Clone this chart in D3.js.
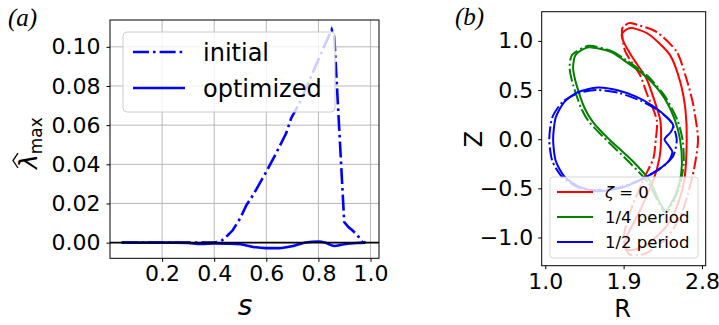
<!DOCTYPE html>
<html><head><meta charset="utf-8">
<script src="https://cdn.jsdelivr.net/npm/d3@7"></script>
<style>body{margin:0;background:#fff;} svg{display:block;} text{font-family:"DejaVu Sans",sans-serif;}</style>
</head><body>
<svg id="c" width="719" height="325"></svg>
<script>
// ---------- Panel (a) data ----------
const sInitial = [0.045,0.1,0.2,0.3,0.4,0.427,0.45,0.471,0.5,0.523,0.55,0.567,0.599,0.637,0.676,0.695,0.733,0.777,0.816,0.851,0.861,0.899,0.915,0.93,0.95,0.969,0.98];
const lamInitial = [0,0,0,0,0,0.0008,0.0035,0.0063,0.0125,0.019,0.0245,0.0285,0.036,0.0455,0.0558,0.0634,0.0728,0.0864,0.0984,0.1088,0.105,0.0105,0.008,0.0063,0.0037,0.0003,0];
const sOpt = [0.045,0.1,0.15,0.2,0.25,0.3,0.35,0.4,0.45,0.5,0.55,0.6,0.65,0.7,0.75,0.8,0.83,0.86,0.9,0.95,0.98];
const lamOpt = [0,0,0,0,0,-0.0002,-0.0007,-0.0004,-0.0005,-0.0008,-0.0022,-0.0028,-0.0028,-0.0018,0.0001,0.0006,-0.0002,-0.0017,-0.0008,-0.0002,0];
const aXTicks = [0.2,0.4,0.6,0.8,1.0];
const aXTickLabels = ["0.2","0.4","0.6","0.8","1.0"];
const aYTicks = [0,0.02,0.04,0.06,0.08,0.10];
const aYTickLabels = ["0.00","0.02","0.04","0.06","0.08","0.10"];
const aLegend = ["initial","optimized"];

// ---------- Panel (b) data: (R, Z) cross-sections ----------
const redOptR = [1.88,1.94,2.01,2.20,2.43,2.55,2.61,2.625,2.60,2.51,2.39,2.16,1.98,1.92,1.935,2.09,2.24,2.31,2.33,2.32,2.24,2.16,2.01,1.90];
const redOptZ = [1.07,1.12,1.13,1.06,0.86,0.585,0.30,0.0,-0.40,-0.69,-0.89,-1.08,-1.13,-1.09,-0.99,-0.72,-0.42,-0.2,0.0,0.2,0.43,0.62,0.82,0.99];
const redIniR = [1.88,1.92,1.99,2.28,2.51,2.62,2.70,2.755,2.71,2.64,2.55,2.39,2.16,1.99,1.92,1.90,1.97,2.125,2.24,2.27,2.28,2.16,2.09,1.92];
const redIniZ = [1.11,1.16,1.18,1.09,0.89,0.62,0.35,0.0,-0.30,-0.55,-0.79,-1.01,-1.16,-1.18,-1.11,-0.99,-0.75,-0.415,-0.2,0.0,0.2,0.48,0.65,0.89];
const greenOptR = [1.50,1.75,1.90,2.16,2.36,2.49,2.55,2.57,2.54,2.46,2.38,2.30,2.20,2.00,1.72,1.55,1.45,1.36,1.32,1.35];
const greenOptZ = [0.935,0.89,0.805,0.635,0.43,0.195,-0.01,-0.25,-0.45,-0.63,-0.73,-0.62,-0.42,-0.22,0.01,0.17,0.32,0.55,0.72,0.86];
const greenIniR = [1.50,1.75,1.92,2.18,2.38,2.52,2.58,2.59,2.55,2.47,2.39,2.31,2.18,1.96,1.67,1.50,1.41,1.32,1.28,1.31];
const greenIniZ = [0.95,0.90,0.81,0.64,0.43,0.19,-0.02,-0.25,-0.46,-0.64,-0.75,-0.66,-0.44,-0.23,0.02,0.18,0.32,0.55,0.72,0.86];
const blueOptR = [1.09,1.12,1.22,1.38,1.60,1.82,2.05,2.25,2.40,2.47,2.44,2.37,2.42,2.46,2.42,2.28,2.08,1.85,1.60,1.38,1.22,1.12];
const blueOptZ = [0.0,0.22,0.38,0.48,0.525,0.50,0.43,0.33,0.22,0.14,0.07,0.0,-0.07,-0.13,-0.22,-0.32,-0.42,-0.50,-0.53,-0.48,-0.38,-0.22];
const blueIniR = [1.046,1.08,1.20,1.38,1.60,1.85,2.10,2.30,2.45,2.51,2.47,2.32,2.10,1.85,1.60,1.38,1.20,1.08];
const blueIniZ = [0.0,0.22,0.38,0.47,0.50,0.47,0.39,0.29,0.17,0.0,-0.17,-0.30,-0.41,-0.49,-0.52,-0.49,-0.39,-0.22];
const bXTicks = [1.0,1.9,2.8];
const bXTickLabels = ["1.0","1.9","2.8"];
const bYTicks = [1.0,0.5,0.0,-0.5,-1.0];
const bYTickLabels = ["1.0","0.5","0.0","\u22120.5","\u22121.0"];
const bLegend = ["\u03b6 = 0","1/4 period","1/2 period"];
const bColors = ["#ff0000","#008000","#0000ff"];

const svg = d3.select("#c");

// ================= Panel (a) =================
const xa = d3.scaleLinear().domain([0.0,1.0325]).range([110,379]);
const ya = d3.scaleLinear().domain([-0.008,0.1137]).range([258.3,20]);
const ga = svg.append("g");
ga.selectAll(".gx").data(aXTicks).enter().append("line")
  .attr("x1",d=>xa(d)).attr("x2",d=>xa(d)).attr("y1",ya.range()[0]).attr("y2",ya.range()[1])
  .attr("stroke","#b0b0b0").attr("stroke-width",0.9);
ga.selectAll(".gy").data(aYTicks).enter().append("line")
  .attr("y1",d=>ya(d)).attr("y2",d=>ya(d)).attr("x1",xa.range()[0]).attr("x2",xa.range()[1])
  .attr("stroke","#b0b0b0").attr("stroke-width",0.9);
const lineA = d3.line().x(d=>xa(d[0])).y(d=>ya(d[1]));
ga.append("path").datum(d3.zip(sInitial,lamInitial)).attr("d",lineA)
  .attr("fill","none").attr("stroke","#0000ff").attr("stroke-width",2.6)
  .attr("stroke-dasharray","16,4,2.6,4");
ga.append("path").datum(d3.zip(sOpt,lamOpt)).attr("d",lineA.curve(d3.curveMonotoneX))
  .attr("fill","none").attr("stroke","#0000ff").attr("stroke-width",2.6);
ga.append("line").attr("x1",xa.range()[0]).attr("x2",xa.range()[1]).attr("y1",ya(0)).attr("y2",ya(0))
  .attr("stroke","#000").attr("stroke-width",1.8);
const la = ga.append("g");
la.append("rect").attr("x",123).attr("y",32).attr("width",212).attr("height",80).attr("rx",4)
  .attr("fill","#fff").attr("fill-opacity",0.8).attr("stroke","#cccccc").attr("stroke-width",1);
aLegend.forEach((t,i)=>{
  const yy = 52 + i*36;
  la.append("line").attr("x1",133).attr("x2",185).attr("y1",yy).attr("y2",yy)
    .attr("stroke","#0000ff").attr("stroke-width",2.6)
    .attr("stroke-dasharray", i===0 ? "16,4,2.6,4" : null);
  la.append("text").attr("x",203).attr("y",yy).attr("dy","0.36em").attr("font-size",24).text(t);
});
ga.append("g").attr("transform","translate(0,258.3)")
  .call(d3.axisBottom(xa).tickValues(aXTicks).tickFormat((d,i)=>aXTickLabels[i]).tickSizeOuter(0).tickSize(3.5).tickPadding(4))
  .call(g=>{g.select(".domain").remove(); g.selectAll("text").attr("font-size",22).style("font-family","DejaVu Sans").attr("fill","#000");});
ga.append("g").attr("transform","translate(110,0)")
  .call(d3.axisLeft(ya).tickValues(aYTicks).tickFormat((d,i)=>aYTickLabels[i]).tickSizeOuter(0).tickSize(3.5).tickPadding(6))
  .call(g=>{g.select(".domain").remove(); g.selectAll("text").attr("font-size",22).style("font-family","DejaVu Sans").attr("fill","#000");});
ga.append("rect").attr("x",110).attr("y",20).attr("width",269).attr("height",238.3)
  .attr("fill","none").attr("stroke","#000").attr("stroke-width",1);
ga.append("text").attr("x",245).attr("y",315).attr("text-anchor","middle")
  .attr("font-size",28).attr("font-style","italic").text("s");
// y label: hat-lambda with "max" subscript, rotated
const yg = ga.append("g").attr("transform","translate(37,141) rotate(-90)");
const yl = yg.append("text").attr("x",-28);
const lamSpan = yl.append("tspan").attr("font-size",25).attr("font-style","italic").text("\u03bb");
yl.append("tspan").attr("font-size",17).attr("dy",5).text("max");
const lw = lamSpan.node().getComputedTextLength();
yg.append("path")
  .attr("d",`M${-28+1},${-19} L${-28+lw/2+1},${-24} L${-28+lw+1},${-19}`)
  .attr("fill","none").attr("stroke","#000").attr("stroke-width",1.3);
ga.append("text").attr("x",8).attr("y",26).style("font-family","'Liberation Serif', serif")
  .attr("font-style","italic").attr("font-size",25).text("(a)");

// ================= Panel (b) =================
const xb = d3.scaleLinear().domain([0.959,2.843]).range([541.7,705.7]);
const yb = d3.scaleLinear().domain([-1.287,1.297]).range([265.7,11.7]);
const gb = svg.append("g");
const lineB = d3.line().x(d=>xb(d[0])).y(d=>yb(d[1])).curve(d3.curveCardinalClosed.tension(0.3));
const curves = [
  [redIniR,redIniZ,0,true],[redOptR,redOptZ,0,false],
  [greenIniR,greenIniZ,1,true],[greenOptR,greenOptZ,1,false],
  [blueIniR,blueIniZ,2,true],[blueOptR,blueOptZ,2,false]
];
curves.forEach(c=>{
  gb.append("path").datum(d3.zip(c[0],c[1])).attr("d",lineB)
    .attr("fill","none").attr("stroke",bColors[c[2]]).attr("stroke-width",2)
    .attr("stroke-dasharray", c[3] ? "12.8,3.2,2,3.2" : null);
});
const lb = gb.append("g");
lb.append("rect").attr("x",550).attr("y",177).attr("width",148).attr("height",81).attr("rx",3)
  .attr("fill","#fff").attr("fill-opacity",0.8).attr("stroke","#cccccc").attr("stroke-opacity",0.8);
bLegend.forEach((t,i)=>{
  const yy = 192 + i*25;
  lb.append("line").attr("x1",557).attr("x2",593).attr("y1",yy).attr("y2",yy)
    .attr("stroke",bColors[i]).attr("stroke-width",2);
  const tx = lb.append("text").attr("x",605).attr("y",yy).attr("dy","0.36em").attr("font-size",16.5);
  if(i===0){
    tx.append("tspan").attr("font-style","italic").text("\u03b6");
    tx.append("tspan").text(" = 0");
  } else tx.text(t);
});
gb.append("g").attr("transform","translate(0,265.7)")
  .call(d3.axisBottom(xb).tickValues(bXTicks).tickFormat((d,i)=>bXTickLabels[i]).tickSizeOuter(0).tickSize(3.5).tickPadding(4))
  .call(g=>{g.select(".domain").remove(); g.selectAll("text").attr("font-size",22).style("font-family","DejaVu Sans").attr("fill","#000");});
gb.append("g").attr("transform","translate(541.7,0)")
  .call(d3.axisLeft(yb).tickValues(bYTicks).tickFormat((d,i)=>bYTickLabels[i]).tickSizeOuter(0).tickSize(3.5).tickPadding(5))
  .call(g=>{g.select(".domain").remove(); g.selectAll("text").attr("font-size",22).style("font-family","DejaVu Sans").attr("fill","#000");});
gb.append("rect").attr("x",541.7).attr("y",11.7).attr("width",164).attr("height",254)
  .attr("fill","none").attr("stroke","#000").attr("stroke-width",1);
gb.append("text").attr("x",622.7).attr("y",317).attr("text-anchor","middle").attr("font-size",24).text("R");
gb.append("text").attr("transform","translate(482,139) rotate(-90)").attr("text-anchor","middle").attr("font-size",24).text("Z");
gb.append("text").attr("x",455).attr("y",25).style("font-family","'Liberation Serif', serif")
  .attr("font-style","italic").attr("font-size",25).text("(b)");
</script>
</body></html>
